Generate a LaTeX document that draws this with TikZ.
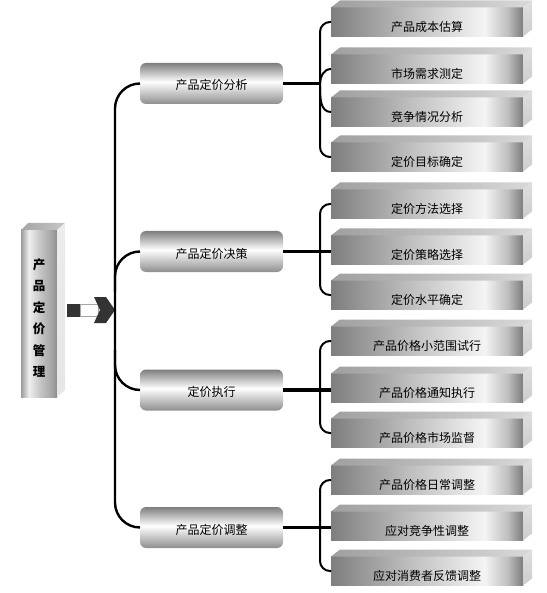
\documentclass[tikz,border=0pt]{standalone}
\usepackage{fontspec}
\setmainfont{Noto Sans CJK SC}
\definecolor{ftA}{HTML}{7E7E7E}
\definecolor{ftB}{HTML}{BDBDBD}
\definecolor{ftC}{HTML}{F4F4F4}
\definecolor{ftD}{HTML}{BFBFBF}
\definecolor{ftE}{HTML}{7C7C7C}
\definecolor{oA}{HTML}{8E8E8E}
\definecolor{oB}{HTML}{7E7E7E}
\definecolor{lzA}{HTML}{9C9C9C}
\definecolor{lzB}{HTML}{EEEEEE}
\definecolor{lzC}{HTML}{C4C4C4}
\definecolor{lzD}{HTML}{A4A4A4}
\definecolor{lzE}{HTML}{8E8E8E}
\definecolor{arrowdark}{HTML}{333333}
\pgfdeclarehorizontalshading{fronttwo}{100bp}{color(0bp)=(ftA); color(25bp)=(ftA); color(45bp)=(ftB); color(65bp)=(ftC); color(71bp)=(ftD); color(75bp)=(ftE); color(100bp)=(ftE)}
\pgfdeclareverticalshading{frontone}{100bp}{color(0bp)=(oA); color(25bp)=(oA); color(52bp)=(white); color(75bp)=(oB); color(100bp)=(oB)}
\pgfdeclarehorizontalshading{frontzero}{100bp}{color(0bp)=(lzA); color(25bp)=(lzA); color(36bp)=(lzB); color(52bp)=(lzC); color(68bp)=(lzD); color(75bp)=(lzE); color(100bp)=(lzE)}
\tikzset{
  lone/.style={rounded corners=6pt, minimum width=143pt, minimum height=41pt, inner sep=0pt, outer sep=0pt, shading=frontone, font=\fontsize{12}{14}\selectfont},
  ltwo/.style={minimum width=192pt, minimum height=29pt, inner sep=0pt, outer sep=0pt, shading=fronttwo, font=\fontsize{12}{14}\selectfont},
  ltwotop/.style={left color=gray!75, right color=gray!30},
  ltwoside/.style={top color=gray!25, bottom color=gray!40},
  lzero/.style={minimum width=36pt, minimum height=167pt, inner sep=0pt, outer sep=0pt, shading=frontzero, align=center, font=\bfseries\fontsize{12.5}{21.5}\selectfont},
  trunk/.style={line width=2.4pt, black},
  conn/.style={line width=3.4pt, black},
  brk/.style={line width=2pt, black},
}
\newcommand\lvtwobox[3]{%
  \node[ltwo] (#1) at (427,-#2) {\smash{\raisebox{-9.5pt}{#3}}};
  \shade[ltwotop] (#1.north west) -- ++(9,7) -- ([shift={(9pt,7pt)}]#1.north east) -- (#1.north east) -- cycle;
  \shade[ltwoside] (#1.north east) -- ++(9,7) -- ([shift={(9pt,7pt)}]#1.south east) -- (#1.south east) -- cycle;
}
\begin{document}
\begin{tikzpicture}[x=1pt,y=1pt]
\useasboundingbox (0,0) rectangle (546,-593);
% root box
\node[lzero] (root) at (39,-313.5) {\smash{\raisebox{-8pt}{\begin{tabular}{@{}c@{}}产\\品\\定\\价\\管\\理\end{tabular}}}};
\shade[left color=gray!70, right color=gray!45] (root.north west) -- ++(7,7) -- ([shift={(8pt,7pt)}]root.north east) -- (root.north east) -- cycle;
\shade[top color=gray!15, bottom color=gray!20] (root.north east) -- ++(8,7) -- ([shift={(8pt,7pt)}]root.south east) -- (root.south east) -- cycle;
% arrow
\fill[arrowdark] (67,-304) rectangle (80,-317);
\filldraw[fill=white, draw=gray!70, line width=0.8pt] (80,-304.5) rectangle (98,-316.5);
\fill[arrowdark] (94,-297) -- (106,-297) -- (115,-310) -- (106,-323) -- (94,-323) -- (100,-310) -- cycle;
% level 1
\node[lone] (a1) at (211.5,-83.5) {\smash{\raisebox{-6.5pt}{产品定价分析}}};
\node[lone] (a2) at (211.5,-251.5) {\smash{\raisebox{-6.5pt}{产品定价决策}}};
\node[lone] (a3) at (211.5,-390) {\smash{\raisebox{-6.5pt}{定价执行}}};
\node[lone] (a4) at (211.5,-527.5) {\smash{\raisebox{-6.5pt}{产品定价调整}}};
% level 2
\lvtwobox{b11}{22}{产品成本估算}
\lvtwobox{b12}{69}{市场需求测定}
\lvtwobox{b13}{112}{竞争情况分析}
\lvtwobox{b14}{157}{定价目标确定}
\lvtwobox{b21}{204}{定价方法选择}
\lvtwobox{b22}{250}{定价策略选择}
\lvtwobox{b23}{295}{定价水平确定}
\lvtwobox{b31}{341}{产品价格小范围试行}
\lvtwobox{b32}{388}{产品价格通知执行}
\lvtwobox{b33}{433}{产品价格市场监督}
\lvtwobox{b41}{480}{产品价格日常调整}
\lvtwobox{b42}{526}{应对竞争性调整}
\lvtwobox{b43}{571}{应对消费者反馈调整}
% trunk
\draw[trunk, rounded corners=25pt] (a1.west) -| ([xshift=-25pt]a4.west) -- (a4.west);
\draw[trunk, rounded corners=25pt] ([shift={(-25pt,-40pt)}]a2.west) |- (a2.west);
\draw[trunk, rounded corners=25pt] ([shift={(-25pt,40pt)}]a3.west) |- (a3.west);
% group 1
\coordinate (j1) at (320,-83.5);
\draw[conn] (a1.east) -- (j1);
\draw[brk, rounded corners=10pt] (b11.west) -| (b14.west -| j1) -- (b14.west);
\draw[brk] (j1) to[out=90,in=180] (b12.west);
\draw[brk] ([yshift=-3pt]j1) to[out=-90,in=180] (b13.west);
% group 2
\coordinate (j2) at (a2.east -| j1);
\draw[conn] (a2.east) -- (a2.east -| b22.west);
\draw[brk, rounded corners=10pt] (b21.west) -| (b23.west -| j2) -- (b23.west);
% group 3
\coordinate (j3) at (a3.east -| j1);
\draw[conn] (a3.east) -- (a3.east -| b32.west);
\draw[brk, rounded corners=10pt] (b31.west) -| (b33.west -| j3) -- (b33.west);
% group 4
\coordinate (j4) at (a4.east -| j1);
\draw[conn] (a4.east) -- (a4.east -| b42.west);
\draw[brk, rounded corners=10pt] (b41.west) -| (b43.west -| j4) -- (b43.west);
\end{tikzpicture}
\end{document}
